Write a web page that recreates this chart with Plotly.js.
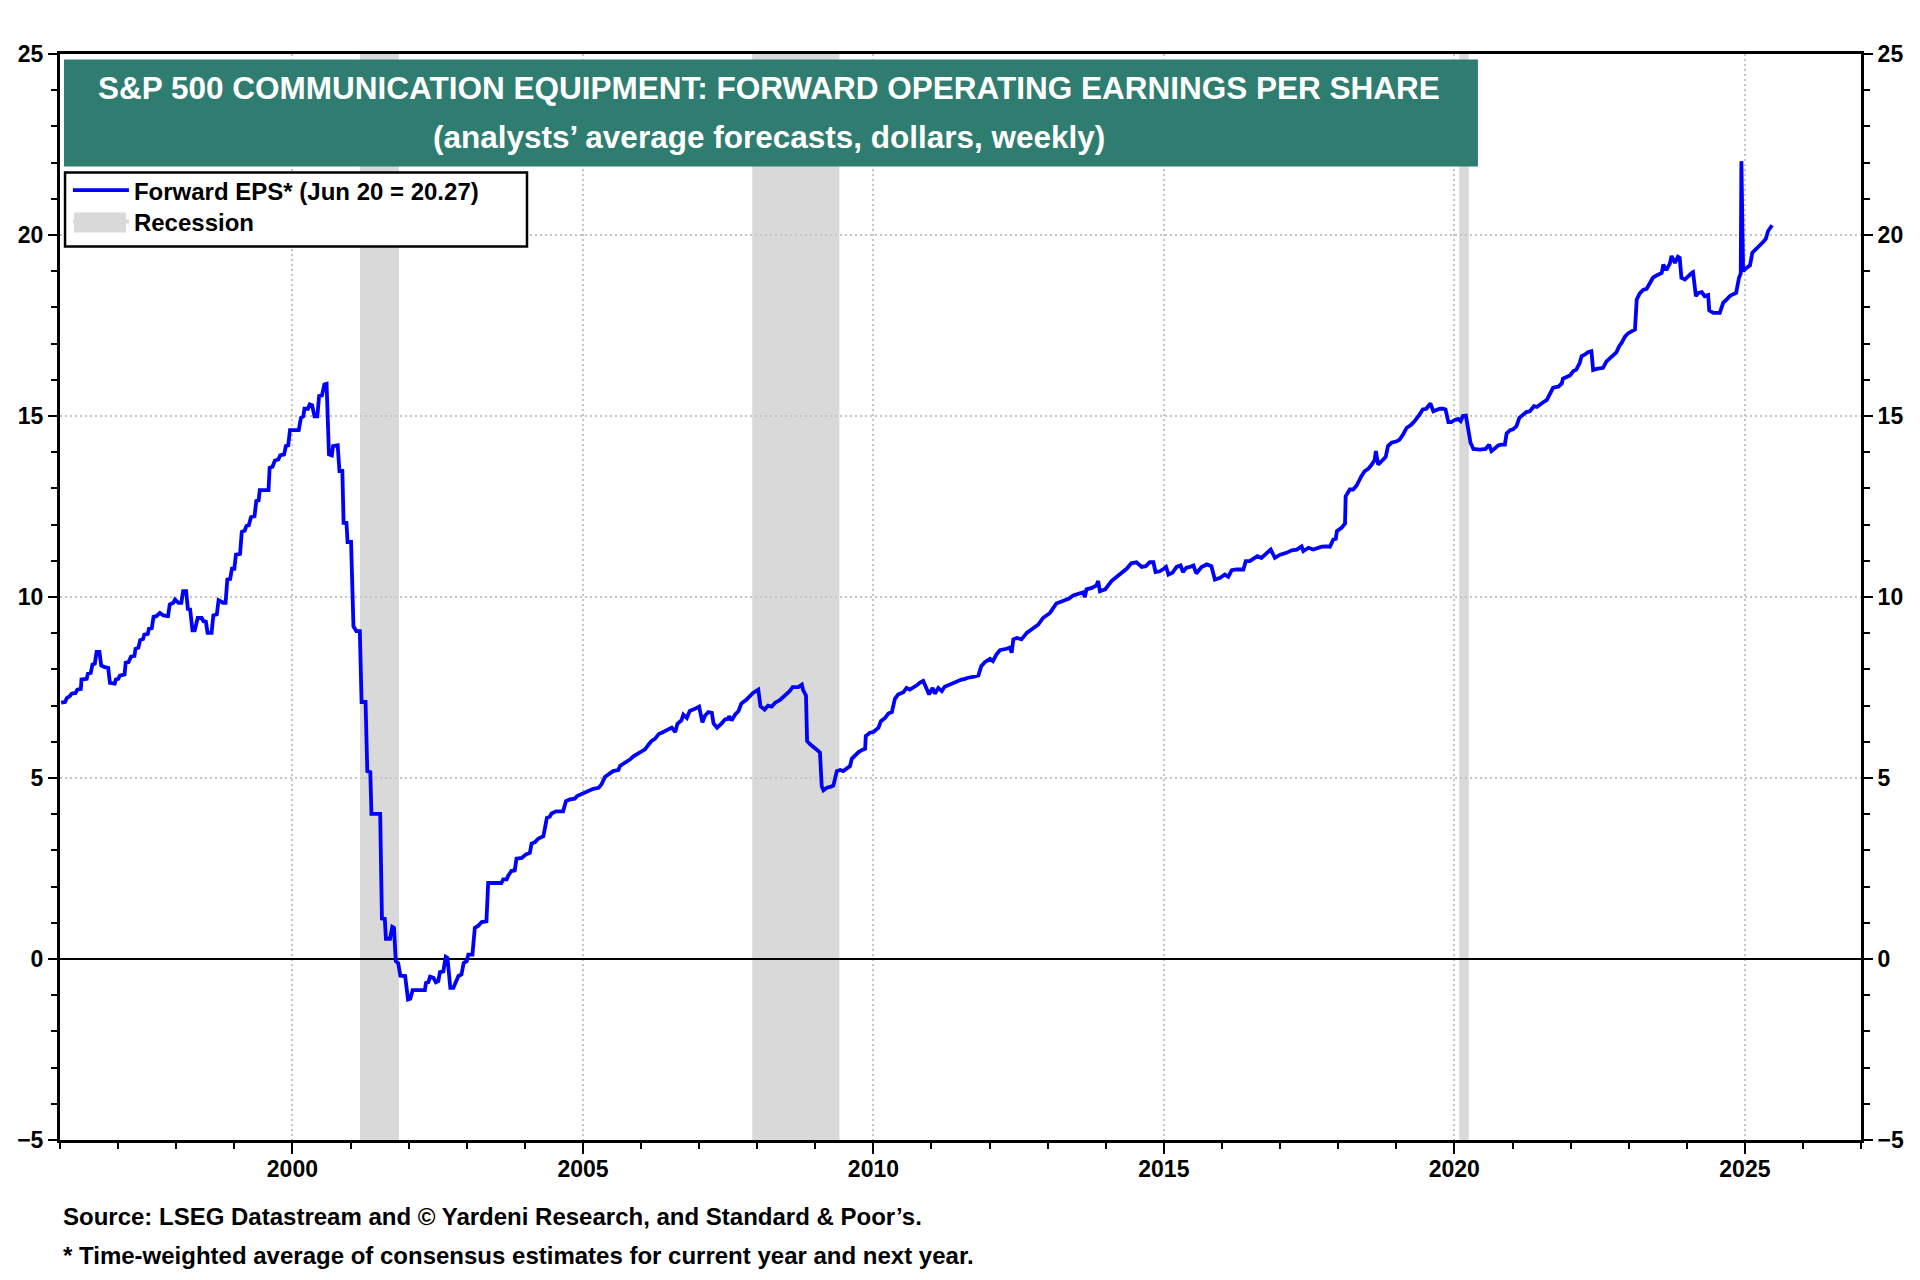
<!DOCTYPE html>
<html>
<head>
<meta charset="utf-8">
<script src="https://cdn.plot.ly/plotly-3.0.1.min.js"></script>
<style>
  html, body { margin: 0; padding: 0; background: #ffffff; }
  #chart { width: 1920px; height: 1280px; }
</style>
</head>
<body>
<div id="chart"></div>
<script>
// ---------------- DATA ----------------
// Week positions as decimal years
const weekYears = [
  // 1996 - 2001
  1996.02,1996.09,1996.12,1996.17,1996.20,1996.27,1996.30,1996.36,1996.37,1996.46,
  1996.48,1996.53,1996.56,1996.60,1996.63,1996.68,1996.71,1996.77,1996.83,1996.86,
  1996.94,1996.96,1997.00,1997.03,1997.11,1997.13,1997.18,1997.22,1997.28,1997.30,
  1997.35,1997.38,1997.43,1997.45,1997.51,1997.53,1997.58,1997.61,1997.66,1997.72,
  1997.78,1997.86,1997.89,1997.95,1997.98,1998.04,1998.09,1998.12,1998.17,1998.20,
  1998.24,1998.28,1998.32,1998.37,1998.44,1998.47,1998.51,1998.54,1998.61,1998.64,
  1998.70,1998.73,1998.81,1998.85,1998.88,1998.93,1998.96,1999.00,1999.03,1999.10,
  1999.13,1999.18,1999.21,1999.25,1999.29,1999.35,1999.38,1999.42,1999.44,1999.59,
  1999.61,1999.66,1999.70,1999.76,1999.79,1999.86,1999.89,1999.93,1999.96,2000.11,
  2000.15,2000.19,2000.21,2000.27,2000.30,2000.34,2000.38,2000.43,2000.46,2000.51,
  2000.55,2000.59,2000.63,2000.68,2000.70,2000.78,2000.81,2000.86,2000.88,2000.93,
  2000.95,2001.01,2001.05,2001.10,2001.16,2001.19,2001.26,
  // 2001 - 2006
  2001.29,2001.34,2001.36,2001.51,2001.54,2001.59,2001.61,2001.68,2001.72,2001.75,
  2001.78,2001.82,2001.86,2001.94,2001.99,2002.03,2002.07,2002.28,2002.30,2002.34,
  2002.37,2002.43,2002.47,2002.51,2002.54,2002.60,2002.64,2002.67,2002.72,2002.77,
  2002.82,2002.86,2002.91,2002.95,2003.00,2003.03,2003.10,2003.14,2003.20,2003.26,
  2003.34,2003.37,2003.60,2003.63,2003.69,2003.72,2003.77,2003.83,2003.86,2003.95,
  2004.02,2004.09,2004.12,2004.18,2004.23,2004.32,2004.38,2004.43,2004.46,2004.54,
  2004.66,2004.71,2004.78,2004.86,2004.90,2004.95,2005.04,2005.12,2005.18,2005.27,
  2005.32,2005.38,2005.45,2005.52,2005.61,2005.64,2005.70,2005.75,2005.81,2005.87,
  2005.93,2005.98,2006.07,2006.13,2006.18,2006.24,2006.31,
  // 2006 - 2012
  2006.36,2006.41,2006.47,2006.53,2006.59,2006.63,2006.70,2006.73,2006.79,2006.84,
  2006.93,2007.00,2007.06,2007.10,2007.16,2007.22,2007.25,2007.31,2007.39,2007.45,
  2007.50,2007.52,2007.56,2007.62,2007.68,2007.73,2007.82,2007.88,2007.93,2008.02,
  2008.06,2008.13,2008.19,2008.25,2008.31,2008.39,2008.45,2008.51,2008.56,2008.61,
  2008.71,2008.77,2008.79,2008.84,2008.86,2008.91,2008.97,2009.02,2009.08,2009.11,
  2009.14,2009.20,2009.27,2009.31,2009.37,2009.43,2009.48,2009.54,2009.60,2009.63,
  2009.68,2009.74,2009.80,2009.86,2009.87,2009.94,2010.00,2010.09,2010.13,2010.20,
  2010.26,2010.32,2010.37,2010.43,2010.52,2010.57,2010.63,2010.69,2010.75,2010.80,
  2010.86,2010.91,2010.96,2011.02,2011.06,2011.12,2011.18,2011.23,2011.32,2011.38,
  2011.46,2011.52,2011.58,2011.63,2011.72,2011.81,2011.86,2011.92,2012.01,2012.06,
  2012.12,2012.18,2012.29,2012.35,2012.38,2012.41,2012.47,2012.55,
  // 2012 - 2019
  2012.64,2012.75,2012.84,2012.92,2013.04,2013.15,2013.27,2013.36,2013.44,2013.53,
  2013.61,2013.64,2013.67,2013.76,2013.84,2013.87,2013.90,2013.99,2014.04,2014.10,
  2014.19,2014.27,2014.36,2014.44,2014.53,2014.62,2014.69,2014.76,2014.82,2014.86,
  2014.93,2015.00,2015.04,2015.08,2015.15,2015.22,2015.29,2015.33,2015.39,2015.45,
  2015.51,2015.56,2015.65,2015.74,2015.82,2015.88,2015.97,2016.05,2016.11,2016.17,
  2016.25,2016.37,2016.41,2016.48,2016.54,2016.61,2016.68,2016.77,2016.84,2016.91,
  2017.00,2017.11,2017.20,2017.29,2017.37,2017.40,2017.49,2017.57,2017.66,2017.72,
  2017.80,2017.86,2017.92,2017.96,2017.98,2018.06,2018.12,2018.13,2018.20,2018.26,
  2018.32,2018.35,2018.40,2018.46,2018.52,2018.58,2018.63,2018.65,2018.69,2018.75,
  2018.82,2018.86,2018.92,2019.01,2019.06,2019.12,2019.18,2019.26,2019.32,2019.40,
  2019.46,2019.52,2019.59,2019.64,2019.69,2019.75,
  // 2019 - 2025
  2019.81,2019.85,2019.90,2019.95,2020.01,2020.07,2020.11,2020.15,2020.20,2020.24,
  2020.28,2020.33,2020.44,2020.54,2020.60,2020.64,2020.70,2020.76,2020.81,2020.87,
  2020.90,2020.96,2021.01,2021.07,2021.12,2021.19,2021.24,2021.30,2021.37,2021.42,
  2021.47,2021.53,2021.59,2021.65,2021.70,2021.79,2021.85,2021.87,2021.93,2021.99,
  2022.05,2022.10,2022.16,2022.19,2022.25,2022.30,2022.36,2022.39,2022.45,2022.51,
  2022.56,2022.62,2022.68,2022.73,2022.79,2022.84,2022.88,2022.94,2022.99,2023.05,
  2023.11,2023.14,2023.19,2023.25,2023.31,2023.37,2023.42,2023.48,2023.57,2023.60,
  2023.65,2023.71,2023.74,2023.80,2023.85,2023.88,2023.91,2023.97,2024.03,2024.08,
  2024.11,2024.16,2024.20,2024.26,2024.31,2024.37,2024.39,2024.46,2024.57,2024.63,
  2024.69,2024.74,2024.79,2024.85,2024.90,2024.93,2024.94,2024.97,2025.03,2025.09,
  2025.13,2025.19,2025.25,2025.31,2025.36,2025.40,2025.44,2025.47
];

// Forward operating EPS, dollars
const forwardEps = [
  // 1996 - 2001
  7.08,7.10,7.21,7.26,7.33,7.35,7.44,7.46,7.72,7.74,
  7.88,7.90,8.13,8.16,8.48,8.48,8.11,8.06,8.04,7.63,
  7.61,7.72,7.74,7.83,7.86,8.18,8.20,8.35,8.37,8.57,
  8.60,8.81,8.84,8.96,8.98,9.12,9.14,9.45,9.47,9.56,
  9.49,9.47,9.79,9.84,9.93,9.84,9.84,10.16,10.16,9.67,
  9.66,9.08,9.08,9.42,9.42,9.33,9.32,9.01,9.01,9.49,
  9.52,9.91,9.84,9.84,10.48,10.50,10.78,10.78,11.17,11.19,
  11.80,11.83,11.96,11.98,12.21,12.23,12.65,12.67,12.95,12.95,
  13.57,13.60,13.77,13.80,13.91,13.94,14.17,14.19,14.61,14.61,
  14.95,14.99,15.20,15.20,15.32,15.30,14.99,14.99,15.55,15.57,
  15.87,15.89,13.94,13.91,14.17,14.19,13.48,13.48,12.05,12.05,
  11.52,11.52,9.19,9.06,9.06,7.10,7.10,
  // 2001 - 2006
  5.19,5.16,4.01,4.01,1.12,1.11,0.56,0.56,0.89,0.86,
  -0.06,-0.11,-0.46,-0.47,-1.12,-1.10,-0.86,-0.86,-0.66,-0.64,
  -0.49,-0.52,-0.64,-0.61,-0.36,-0.34,0.06,0.03,-0.80,-0.80,
  -0.64,-0.47,-0.43,-0.11,-0.06,0.12,0.12,0.86,0.92,1.02,
  1.04,2.10,2.10,2.20,2.20,2.31,2.43,2.45,2.77,2.79,
  2.89,2.93,3.19,3.23,3.32,3.39,3.90,3.93,4.02,4.08,
  4.08,4.36,4.41,4.43,4.50,4.54,4.61,4.66,4.70,4.73,
  4.82,5.03,5.12,5.19,5.22,5.33,5.40,5.44,5.51,5.60,
  5.65,5.71,5.79,5.92,6.02,6.08,6.22,
  // 2006 - 2012
  6.25,6.29,6.34,6.39,6.27,6.50,6.60,6.75,6.66,6.85,
  6.91,6.97,6.54,6.71,6.82,6.80,6.51,6.39,6.51,6.62,
  6.63,6.71,6.59,6.75,6.85,7.06,7.17,7.26,7.35,7.44,
  6.98,6.89,7.00,6.97,7.08,7.15,7.24,7.31,7.40,7.51,
  7.51,7.58,7.43,7.28,6.02,5.93,5.86,5.79,5.70,4.77,
  4.66,4.73,4.76,4.79,5.19,5.22,5.19,5.25,5.33,5.53,
  5.62,5.71,5.77,5.81,6.16,6.25,6.27,6.39,6.57,6.66,
  6.78,6.82,7.19,7.31,7.37,7.49,7.44,7.49,7.56,7.63,
  7.68,7.49,7.31,7.49,7.33,7.49,7.40,7.52,7.58,7.63,
  7.70,7.72,7.74,7.77,7.79,7.83,8.09,8.20,8.29,8.23,
  8.41,8.53,8.57,8.60,8.46,8.83,8.87,8.83,
  // 2012 - 2019
  9.01,9.15,9.24,9.42,9.56,9.82,9.88,9.95,10.04,10.10,
  10.13,10.00,10.21,10.25,10.32,10.44,10.16,10.21,10.30,10.44,
  10.56,10.67,10.78,10.93,10.96,10.83,10.85,10.96,10.96,10.69,
  10.71,10.78,10.83,10.62,10.67,10.83,10.87,10.69,10.81,10.83,
  10.87,10.65,10.83,10.90,10.85,10.48,10.53,10.62,10.56,10.74,
  10.76,10.76,10.99,10.99,11.05,11.13,11.08,11.20,11.31,11.08,
  11.17,11.22,11.29,11.31,11.40,11.27,11.36,11.31,11.36,11.39,
  11.40,11.39,11.59,11.61,11.82,11.91,12.03,12.78,12.97,12.97,
  13.08,13.20,13.34,13.48,13.54,13.66,13.78,14.03,13.66,13.75,
  13.87,14.17,14.26,14.30,14.35,14.49,14.67,14.76,14.86,15.04,
  15.18,15.20,15.35,15.13,15.16,15.20,
  // 2019 - 2025
  15.20,15.18,14.83,14.83,14.89,14.92,14.86,15.00,15.01,14.58,
  14.26,14.09,14.07,14.09,14.21,14.03,14.12,14.19,14.21,14.21,
  14.52,14.61,14.63,14.72,14.95,15.04,15.11,15.13,15.27,15.25,
  15.32,15.38,15.44,15.66,15.78,15.81,15.90,16.03,16.08,16.12,
  16.24,16.28,16.47,16.65,16.70,16.76,16.79,16.27,16.30,16.33,
  16.33,16.51,16.61,16.67,16.76,16.93,17.02,17.20,17.28,17.34,
  17.39,18.22,18.38,18.48,18.51,18.68,18.82,18.88,18.95,19.18,
  19.03,19.21,19.42,19.23,19.40,19.37,18.82,18.77,18.88,18.94,
  18.97,18.31,18.40,18.42,18.31,18.34,17.92,17.85,17.85,18.13,
  18.22,18.31,18.36,18.40,18.82,18.94,22.04,19.00,19.09,19.16,
  19.51,19.60,19.71,19.80,19.89,20.11,20.20,20.27
];

const recessionStart = ['2001-03-01', '2007-12-01', '2020-02-01'];
const recessionEnd   = ['2001-11-01', '2009-06-01', '2020-04-01'];

const seriesName = 'Forward EPS* (Jun 20 = 20.27)';
const recessionName = 'Recession';
const titleLines = ['S&P 500 COMMUNICATION EQUIPMENT: FORWARD OPERATING EARNINGS PER SHARE',
                    '(analysts\u2019 average forecasts, dollars, weekly)'];
const sourceLines = ['Source: LSEG Datastream and \u00A9 Yardeni Research, and Standard & Poor\u2019s.',
                     '* Time-weighted average of consensus estimates for current year and next year.'];

// ---------------- HELPERS ----------------
function yearToDate(y) {
  const Y = Math.floor(y);
  const start = Date.UTC(Y, 0, 1), end = Date.UTC(Y + 1, 0, 1);
  const d = new Date(start + (y - Y) * (end - start));
  return d.toISOString().slice(0, 10);
}
const weekDates = weekYears.map(yearToDate);

const FONT = '"Liberation Sans Narrow", "Arial Narrow", "Liberation Sans", Arial, sans-serif';
const GRID = '#c4c4c4';
const TEAL = '#2f7d70';
const RECESS = '#d9d9d9';

// ---------------- TRACES ----------------
const traces = [
  {
    type: 'scatter', mode: 'lines', name: seriesName,
    x: weekDates, y: forwardEps,
    line: { color: '#0000ff', width: 3.8 },
    hoverinfo: 'skip', legend: 'legend'
  },
  {
    type: 'scatter', mode: 'lines', name: recessionName,
    x: [null], y: [null], yaxis: 'y2',
    line: { color: RECESS, width: 4 },
    hoverinfo: 'skip', legend: 'legend2'
  }
];

// ---------------- SHAPES ----------------
const shapes = recessionStart.map((s, i) => ({
  type: 'rect', xref: 'x', yref: 'paper',
  x0: s, x1: recessionEnd[i], y0: 0, y1: 1,
  fillcolor: RECESS, line: { width: 0 }, layer: 'below'
}));
// title banner
shapes.push({
  type: 'rect', xref: 'paper', yref: 'paper',
  x0: 0.0022, x1: 0.7873, y0: 0.8964, y1: 0.9949,
  fillcolor: TEAL, line: { width: 0 }, layer: 'above'
});
// legend frame
shapes.push({
  type: 'rect', xref: 'paper', yref: 'paper',
  x0: 0.0028, x1: 0.2593, y0: 0.8227, y1: 0.8908,
  fillcolor: '#ffffff', line: { width: 2.5, color: '#000000' }, layer: 'above'
});
// recession swatch in the legend
shapes.push({
  type: 'rect', xref: 'paper', yref: 'paper',
  x0: 0.0078, x1: 0.0366, y0: 0.8356, y1: 0.8540,
  fillcolor: RECESS, line: { width: 0 }, layer: 'above'
});

const yCommon = {
  range: [-5, 25], tick0: 0, dtick: 5,
  ticks: 'outside', ticklen: 9, tickwidth: 2, tickcolor: '#000',
  showline: true, linewidth: 3, linecolor: '#000',
  tickfont: { family: FONT, size: 23, color: '#000', weight: 'bold' },
  minor: { dtick: 1, ticks: 'outside', ticklen: 6, tickwidth: 2, tickcolor: '#000', showgrid: false },
  fixedrange: true
};

const legendCommon = {
  xanchor: 'left', yanchor: 'top',
  bgcolor: 'rgba(0,0,0,0)', borderwidth: 0,
  font: { family: FONT, size: 24, color: '#000', weight: 'bold' },
  itemwidth: 56, traceorder: 'normal', tracegroupgap: 0
};

const layout = {
  width: 1920, height: 1280,
  margin: { l: 60, r: 59, t: 54, b: 140, pad: 0 },
  paper_bgcolor: '#ffffff', plot_bgcolor: '#ffffff',
  font: { family: FONT, size: 23, color: '#000', weight: 'bold' },
  showlegend: true,
  legend: Object.assign({ x: 0.0044, y: 0.8950 }, legendCommon),
  legend2: Object.assign({ x: 0.0044, y: 0.8660 }, legendCommon),
  xaxis: {
    type: 'date', range: ['1996-01-01', '2027-01-01'],
    tick0: '2000-01-01', dtick: 'M60', tickformat: '%Y',
    ticks: 'outside', ticklen: 11, tickwidth: 2, tickcolor: '#000',
    ticklabelstandoff: -5,
    showline: true, linewidth: 3, linecolor: '#000', mirror: true,
    showgrid: true, gridcolor: GRID, gridwidth: 2, griddash: '2px,3px',
    zeroline: false,
    tickfont: { family: FONT, size: 23, color: '#000', weight: 'bold' },
    minor: { tick0: '1996-01-01', dtick: 'M12', ticks: 'outside', ticklen: 6, tickwidth: 2, tickcolor: '#000', showgrid: false },
    fixedrange: true
  },
  yaxis: Object.assign({}, yCommon, {
    side: 'left',
    showgrid: true, gridcolor: GRID, gridwidth: 2, griddash: '2px,3px',
    zeroline: true, zerolinecolor: '#000', zerolinewidth: 1.3
  }),
  yaxis2: Object.assign({}, yCommon, {
    side: 'right', overlaying: 'y',
    showgrid: false, zeroline: false
  }),
  shapes: shapes,
  annotations: [
    {
      xref: 'paper', yref: 'paper', x: 0.3935, y: 0.9685,
      xanchor: 'center', yanchor: 'middle', showarrow: false,
      text: titleLines[0], align: 'center',
      font: { family: FONT, size: 31.5, color: '#ffffff', weight: 'bold' }
    },
    {
      xref: 'paper', yref: 'paper', x: 0.3935, y: 0.9235,
      xanchor: 'center', yanchor: 'middle', showarrow: false,
      text: titleLines[1], align: 'center',
      font: { family: FONT, size: 31.5, color: '#ffffff', weight: 'bold' }
    },
    {
      xref: 'paper', yref: 'paper', x: 0.0005, y: -0.070,
      xanchor: 'left', yanchor: 'middle', showarrow: false,
      text: sourceLines[0], align: 'left',
      font: { family: FONT, size: 24, color: '#000', weight: 'bold' }
    },
    {
      xref: 'paper', yref: 'paper', x: 0.0005, y: -0.106,
      xanchor: 'left', yanchor: 'middle', showarrow: false,
      text: sourceLines[1], align: 'left',
      font: { family: FONT, size: 24, color: '#000', weight: 'bold' }
    }
  ]
};

Plotly.newPlot('chart', traces, layout, { displayModeBar: false, staticPlot: true });
</script>
</body>
</html>
